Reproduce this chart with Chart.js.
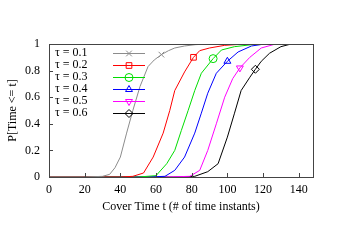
<!DOCTYPE html>
<html>
<head>
<meta charset="utf-8">
<script src="https://cdn.jsdelivr.net/npm/chart.js@4/dist/chart.umd.min.js"></script>
<style>
  html, body { margin: 0; padding: 0; background: #fff; }
  #wrap { width: 350px; height: 245px; }
</style>
</head>
<body>
<div id="wrap"><canvas id="cdfChart"></canvas></div>
<script>
// Series values (x = cover time, y = cumulative probability)
const tauLabels = ['τ = 0.1', 'τ = 0.2', 'τ = 0.3', 'τ = 0.4', 'τ = 0.5', 'τ = 0.6'];

const tau01X = [0, 20, 30, 34, 37, 40, 43.5, 47, 51, 55.5, 59, 63, 67, 70.5, 76, 82, 89, 148];
const tau01Y = [0, 0, 0.005, 0.02, 0.07, 0.15, 0.33, 0.5, 0.68, 0.83, 0.88, 0.92, 0.95, 0.97, 0.985, 0.995, 1, 1];

const tau02X = [0, 40, 47, 53, 58.4, 64, 67.7, 70.5, 76, 81, 84.5, 90, 98.5, 110, 148];
const tau02Y = [0, 0, 0.005, 0.03, 0.15, 0.33, 0.5, 0.65, 0.79, 0.9, 0.95, 0.97, 0.99, 1, 1];

const tau03X = [0, 50, 60, 66, 70.5, 74.2, 78, 81.7, 85.4, 92, 96.7, 104, 117, 148];
const tau03Y = [0, 0, 0.01, 0.1, 0.2, 0.35, 0.5, 0.65, 0.78, 0.89, 0.955, 0.98, 1, 1];

const tau04X = [0, 55, 65, 70.5, 76, 81.7, 85.4, 89, 93.8, 100, 106, 113.5, 121, 148];
const tau04Y = [0, 0, 0.005, 0.05, 0.15, 0.33, 0.48, 0.63, 0.78, 0.87, 0.94, 0.985, 1, 1];

const tau05X = [0, 65, 79, 84.5, 89, 93.8, 98.5, 103, 107, 112.6, 119, 127, 148];
const tau05Y = [0, 0, 0.005, 0.05, 0.2, 0.4, 0.6, 0.74, 0.82, 0.9, 0.97, 1, 1];

const tau06X = [0, 70, 81.7, 89, 94.8, 100, 104, 107.7, 112.6, 115.7, 119, 123.6, 130, 135.7, 148];
const tau06Y = [0, 0, 0.005, 0.04, 0.1, 0.3, 0.48, 0.65, 0.75, 0.81, 0.87, 0.93, 0.98, 1, 1];

// index of the single point that carries a marker on each curve
const markerAt = [11, 9, 9, 9, 8, 9];

const xTicks = [0, 20, 40, 60, 80, 100, 120, 140];
const yTicks = [0, 0.2, 0.4, 0.6, 0.8, 1];

const colors = ['#8c8c8c', '#ff0000', '#00dd00', '#0000ff', '#ff00ff', '#000000'];
const markers = ['crossRot', 'rect', 'circle', 'triangle', 'triangle', 'rectRot'];
const rotations = [0, 0, 0, 0, 180, 0];

const FONT = 'Liberation Serif, Times New Roman, serif';

const seriesX = [tau01X, tau02X, tau03X, tau04X, tau05X, tau06X];
const seriesY = [tau01Y, tau02Y, tau03Y, tau04Y, tau05Y, tau06Y];

const datasets = seriesX.map(function(xs, i) {
    const pts = xs.map((x, j) => ({ x: x, y: seriesY[i][j] }));
    return {
        label: tauLabels[i],
        data: pts,
        borderColor: colors[i],
        backgroundColor: 'rgba(0,0,0,0)',
        borderWidth: 1,
        tension: 0,
        pointStyle: markers[i],
        rotation: rotations[i],
        pointRadius: pts.map((p, j) => j === markerAt[i] ? 4 : 0),
        pointBorderColor: colors[i],
        pointBackgroundColor: 'rgba(0,0,0,0)',
        pointBorderWidth: 1
    };
});

// frame + inward ticks + gnuplot-like key
const framePlugin = {
    id: 'frame',
    afterDraw(chart) {
        const ctx = chart.ctx;
        const a = chart.chartArea;
        const xs = chart.scales.x, ys = chart.scales.y;
        ctx.save();
        ctx.strokeStyle = '#444';
        ctx.lineWidth = 1;
        ctx.strokeRect(Math.round(a.left) + 0.5, Math.round(a.top) + 0.5,
            Math.round(a.right - a.left), Math.round(a.bottom - a.top));
        ctx.beginPath();
        xTicks.forEach(function(t) {
            const px = Math.round(xs.getPixelForValue(t)) + 0.5;
            ctx.moveTo(px, a.bottom);
            ctx.lineTo(px, a.bottom - 4);
        });
        yTicks.forEach(function(t) {
            const py = Math.round(ys.getPixelForValue(t)) + 0.5;
            ctx.moveTo(a.left, py);
            ctx.lineTo(a.left + 4, py);
        });
        ctx.stroke();

        // key
        ctx.font = '12px ' + FONT;
        ctx.textBaseline = 'middle';
        ctx.textAlign = 'left';
        tauLabels.forEach(function(lab, i) {
            const y = 53 + i * 12;
            ctx.fillStyle = '#000';
            ctx.fillText(lab, 55, y);
            ctx.strokeStyle = colors[i];
            ctx.beginPath();
            ctx.moveTo(113, y + 0.5);
            ctx.lineTo(145, y + 0.5);
            ctx.stroke();
            ctx.fillStyle = 'rgba(0,0,0,0)';
            Chart.helpers.drawPoint(ctx, {
                pointStyle: markers[i], rotation: rotations[i], radius: 4, borderWidth: 1
            }, 129, y + 0.5);
        });
        ctx.restore();
    }
};

new Chart(document.getElementById('cdfChart'), {
    type: 'line',
    data: { datasets: datasets },
    plugins: [framePlugin],
    options: {
        responsive: true,
        maintainAspectRatio: false,
        animation: false,
        layout: { padding: { top: 44, right: 37, left: 0, bottom: 31 } },
        plugins: {
            legend: { display: false },
            tooltip: { enabled: false }
        },
        scales: {
            x: {
                type: 'linear',
                min: 0,
                max: 148,
                afterBuildTicks: function(s) { s.ticks = xTicks.map(v => ({ value: v })); },
                afterFit: function(s) { s.height = 37; },
                grid: { display: false, drawTicks: false },
                border: { display: false },
                ticks: { color: '#000', font: { family: FONT, size: 12 }, padding: 6, maxRotation: 0 },
                title: {
                    display: true,
                    text: 'Cover Time t (# of time instants)',
                    color: '#000',
                    font: { family: FONT, size: 12 },
                    padding: { top: 3, bottom: 0 }
                }
            },
            y: {
                min: 0,
                max: 1,
                afterBuildTicks: function(s) { s.ticks = yTicks.map(v => ({ value: v })); },
                afterFit: function(s) { s.width = 49; },
                grid: { display: false, drawTicks: false },
                border: { display: false },
                ticks: {
                    color: '#000',
                    font: { family: FONT, size: 12 },
                    padding: 9,
                    callback: v => String(Math.round(v * 10) / 10)
                },
                title: {
                    display: true,
                    text: 'P[Time <= t]',
                    color: '#000',
                    font: { family: FONT, size: 12 },
                    padding: { top: 6, bottom: 0 }
                }
            }
        }
    }
});
</script>
</body>
</html>
